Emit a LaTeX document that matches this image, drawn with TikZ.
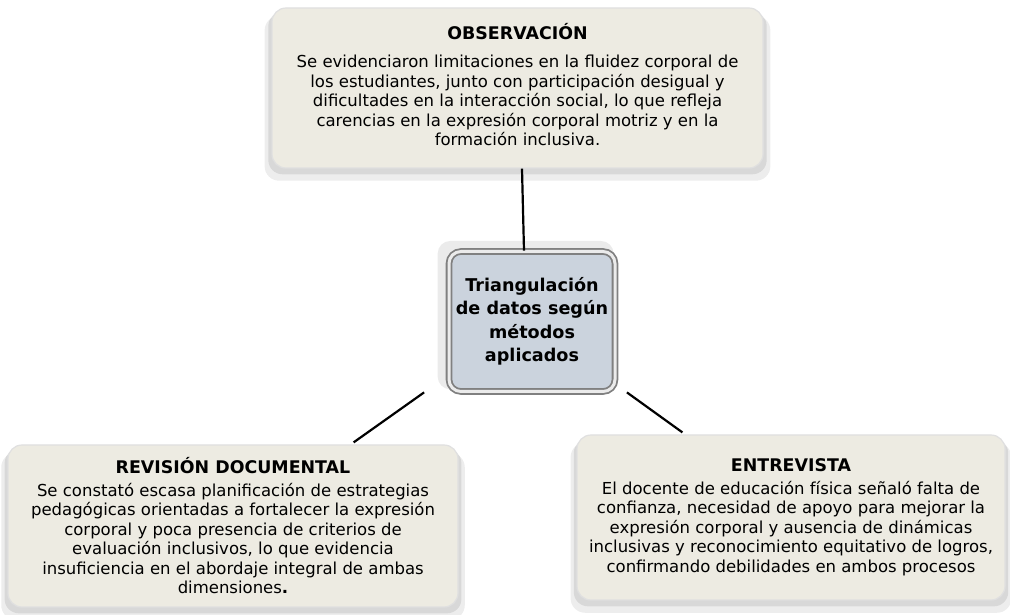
\documentclass[tikz,border=0pt]{standalone}
\usepackage{fontspec}
\setmainfont{DejaVu Sans}
\usepackage{xcolor}
\usetikzlibrary{shadows,calc,positioning}
\definecolor{cardcolor}{RGB}{237,235,226}
\definecolor{hubcolor}{RGB}{203,211,221}
\newcommand{\cardtitle}[1]{{\bfseries\fontsize{17.4}{19.5}\selectfont #1}}

\begin{document}
\begin{tikzpicture}[x=1pt,y=1pt,card/.style={draw=black!12,line width=1.2pt,rounded corners=14pt,fill=cardcolor,align=center,inner sep=0pt,font=\fontsize{16.5}{19.5}\selectfont,general shadow={fill=black,opacity=0.07,shadow yshift=-10pt,shadow scale=1.03},general shadow={fill=black,opacity=0.09,shadow yshift=-5pt,shadow scale=1.015}},hub/.style={draw=black!50,double=white!92!black,double distance=3pt,line width=1.8pt,rounded corners=12pt,fill=hubcolor,align=center,inner sep=0pt,font=\bfseries\fontsize{17.6}{23.5}\selectfont,minimum width=166pt,minimum height=140pt,general shadow={fill=black,opacity=0.08,shadow xshift=-6pt,shadow yshift=6pt,shadow scale=1.06}},link/.style={line width=2.2pt,black}]
\useasboundingbox (0,0) rectangle (1010,615);
\node[card,minimum width=491pt,minimum height=160pt,yshift=0pt](obs) at (517.5,527){\cardtitle{OBSERVACIÓN}\\[9pt]Se evidenciaron limitaciones en la fluidez corporal de\\los estudiantes, junto con participación desigual y\\dificultades en la interacción social, lo que refleja\\carencias en la expresión corporal motriz y en la\\formación inclusiva.\\[-12pt]};
\node[hub](tri) at (532,293.5){Triangulación\\de datos según\\métodos\\aplicados};
\node[card,minimum width=450pt,minimum height=162pt](rev) at (233,89){\cardtitle{REVISIÓN DOCUMENTAL}\\[3pt]Se constató escasa planificación de estrategias\\pedagógicas orientadas a fortalecer la expresión\\corporal y poca presencia de criterios de\\evaluación inclusivos, lo que evidencia\\insuficiencia en el abordaje integral de ambas\\dimensiones{\bfseries .}};
\node[card,minimum width=428pt,minimum height=165pt](ent) at (791,97.5){\cardtitle{ENTREVISTA}\\[3pt]El docente de educación física señaló falta de\\confianza, necesidad de apoyo para mejorar la\\expresión corporal y ausencia de dinámicas\\inclusivas y reconocimiento equitativo de logros,\\confirmando debilidades en ambos procesos};
% free ends of the two lower links
\coordinate[xshift=-24pt] (tl) at (tri.south west); \coordinate[xshift=11pt] (tr) at (tri.south east);
\draw[link]($(obs.south)+(4.5,0)$)--($(tri.north)+(-8,0)$);
\draw[link](tl)--($(rev.north east)+(-105,2)$);
\draw[link](tr)--($(ent.north west)+(106,2)$);
\end{tikzpicture}
\end{document}
